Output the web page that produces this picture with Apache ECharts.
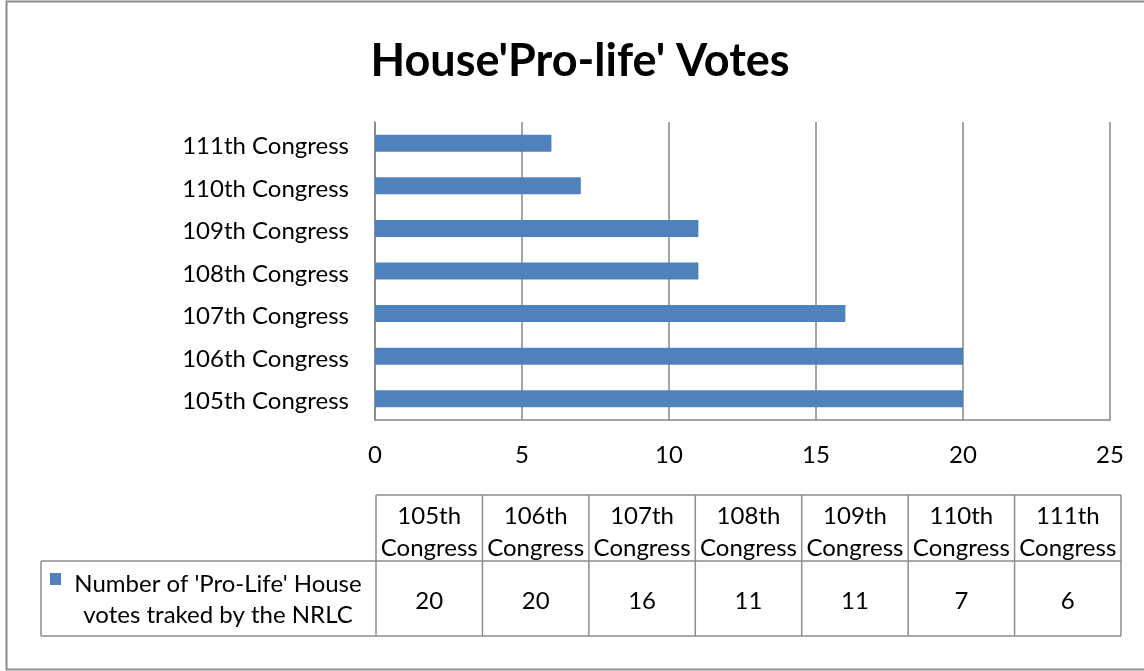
<!DOCTYPE html>
<html><head><meta charset="utf-8">
<script src="https://cdn.jsdelivr.net/npm/echarts@6/dist/echarts.min.js"></script>
<style>html,body{margin:0;padding:0;background:#fff}#c{width:1144px;height:671px}</style>
</head><body><div id="c"></div>
<script>
const titleText = "House'Pro-life' Votes";
const categories = ['105th Congress','106th Congress','107th Congress','108th Congress','109th Congress','110th Congress','111th Congress'];
const values = [20, 20, 16, 11, 11, 7, 6];
const seriesName = "Number of 'Pro-Life' House votes traked by the NRLC";
const xTicks = [0, 5, 10, 15, 20, 25];

const FONT = 'Lato';
const BLUE = '#4F81BD';
const GRID = '#868686';

const chart = echarts.init(document.getElementById('c'), null, {renderer: 'canvas'});

// table layout
const tLeft = 376, tRight = 1121, tTop = 495, tMid = 561, tBot = 636, lblLeft = 41;
const colW = (tRight - tLeft) / categories.length;
const graphics = [];
graphics.push({type:'rect', shape:{x:6.5,y:1.5,width:1145,height:668}, style:{fill:null, stroke:'#8c8c8c', lineWidth:2}, silent:true});
const lineStyle = {stroke:'#8c8c8c', lineWidth:1.5};
graphics.push({type:'line', shape:{x1:tLeft,y1:tTop,x2:tRight,y2:tTop}, style:lineStyle});
graphics.push({type:'line', shape:{x1:lblLeft,y1:tMid,x2:tRight,y2:tMid}, style:lineStyle});
graphics.push({type:'line', shape:{x1:lblLeft,y1:tBot,x2:tRight,y2:tBot}, style:lineStyle});
graphics.push({type:'line', shape:{x1:lblLeft,y1:tMid,x2:lblLeft,y2:tBot}, style:lineStyle});
for (let i = 0; i <= categories.length; i++) {
  const x = tLeft + i * colW;
  graphics.push({type:'line', shape:{x1:x,y1:tTop,x2:x,y2:tBot}, style:lineStyle});
}
categories.forEach((c, i) => {
  const cx = tLeft + (i + 0.5) * colW;
  const parts = c.split(' ');
  graphics.push({type:'text', x:cx, y:(tTop+tMid)/2+4, style:{text:parts[0]+'\n'+parts[1], font:'24px '+FONT, fill:'#000', align:'center', verticalAlign:'middle', lineHeight:32}});
  graphics.push({type:'text', x:cx, y:(tMid+tBot)/2+3, style:{text:String(values[i]), font:'24px '+FONT, fill:'#000', align:'center', verticalAlign:'middle'}});
});
graphics.push({type:'rect', shape:{x:50,y:573,width:11,height:12}, style:{fill:BLUE}});
graphics.push({type:'text', x:218, y:(tMid+tBot)/2+1, style:{text:"Number of 'Pro-Life' House\nvotes traked by the NRLC", font:'24px '+FONT, fill:'#000', align:'center', verticalAlign:'middle', lineHeight:31}});

chart.setOption({
  animation: false,
  backgroundColor: '#fff',
  title: {text: titleText, left: 575, top: 34, textAlign: 'center',
    textStyle: {fontFamily: FONT, fontWeight: 'bold', fontSize: 45, color: '#000'}},
  grid: {left: 375, right: 34, top: 122, bottom: 251, containLabel: false},
  xAxis: {type: 'value', min: 0, max: 25, interval: 5,
    axisLine: {show: true, lineStyle: {color: GRID, width: 1.5}},
    axisTick: {show: false},
    splitLine: {show: true, lineStyle: {color: GRID, width: 1.5}},
    axisLabel: {color: '#000', fontFamily: FONT, fontSize: 24, margin: 23,
      formatter: v => xTicks.includes(v) ? String(v) : ''}},
  yAxis: {type: 'category', data: categories,
    axisLine: {show: true, lineStyle: {color: GRID, width: 1.5}},
    axisTick: {show: false},
    axisLabel: {margin: 26, formatter: v => '{a|' + v + '}',
      rich: {a: {color: '#000', fontFamily: FONT, fontSize: 24, padding: [6, 0, 0, 0]}}}},
  series: [{type: 'bar', name: seriesName, data: values, barWidth: 17,
    itemStyle: {color: BLUE}}],
  graphic: graphics
});
</script></body></html>
